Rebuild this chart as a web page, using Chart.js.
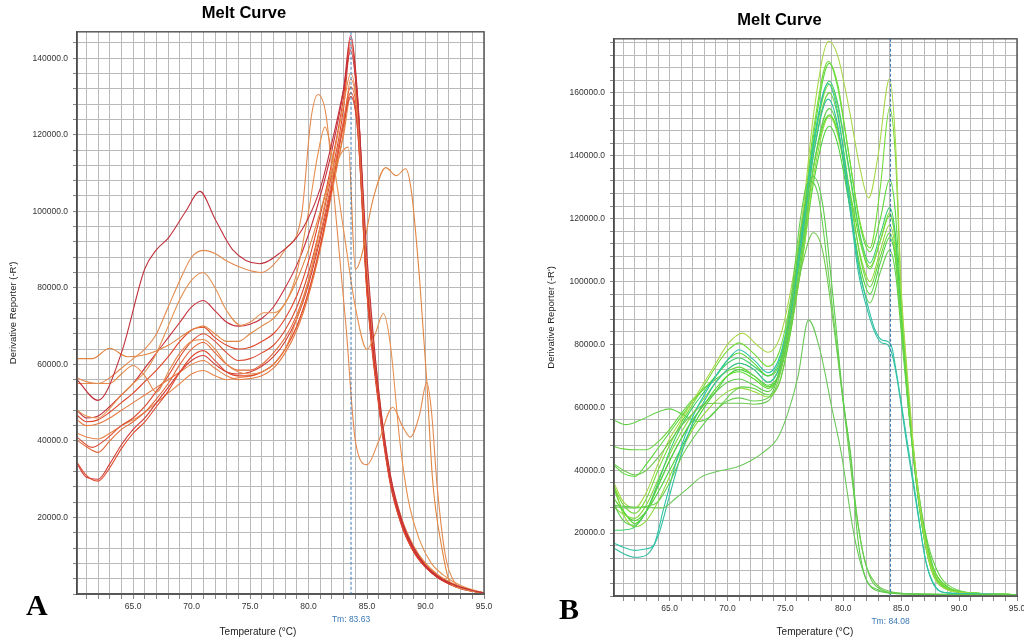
<!DOCTYPE html>
<html>
<head>
<meta charset="utf-8">
<script src="https://cdn.jsdelivr.net/npm/chart.js@4.4.1/dist/chart.umd.min.js"></script>
<style>
  html, body { margin: 0; padding: 0; background: #fff; overflow: hidden; }
  body { width: 1024px; height: 644px; position: relative; }
  canvas { position: absolute; top: 0; }
  .panel-letter { position: absolute; font: bold 30px "Liberation Serif", serif; color: #000; }
</style>
</head>
<body>
<canvas id="chartA" width="516" height="644" style="left:0"></canvas>
<canvas id="chartB" width="505" height="644" style="left:540px"></canvas>
<div class="panel-letter" style="left:26px; top:588px">A</div>
<div class="panel-letter" style="left:559px; top:592px">B</div>
<script>
// values are derivative reporter in thousands: [temperature, -R']
// panel A
const a1 = [[60.2,56],[62,50.6],[64,63],[66,85],[67,90],[68,93],[69.5,100],[70.7,105.2],[72,98],[73.5,90],[75.8,86.3],[77.5,89],[79.4,95],[81,106],[82,118],[83,132],[83.6,142],[84.2,128],[85,88],[86,53],[87,31],[88,19],[89,12],[90,7.5],[91,4.8],[92,3],[93,1.8],[94,0.9],[95,0.3]]
const a2 = [[60.2,56.5],[61,55.5],[62,55],[63,56.5],[64,59],[65,61.5],[66,64],[67,68],[68,75],[69,82],[70,88],[71,89.8],[72,89],[73,87],[74.5,85],[76,84],[77,86],[78,90],[79.4,99],[80.2,124],[80.8,130.5],[81.5,125],[82.3,100],[83.2,70],[84,40],[85,33.8],[86,40],[87.2,48.8],[88,44],[88.7,41],[89.5,47],[90.1,55.3],[90.5,48],[91,28],[91.7,10],[92.5,3],[93.5,1.2],[95,0.3]]
const a3 = [[60.2,48],[61,46.5],[62,46],[63,48.5],[64,52],[65,55],[66,58],[67,63],[68,70],[69,77],[70,82],[71,84],[72,80],[73,74],[74.2,70.2],[75,71],[76.2,73.5],[77,73.5],[78,76],[79,84],[80,100],[80.8,115],[81.4,122],[82,115],[83,95],[84,75],[85,63.9],[85.7,68],[86.4,73.3],[87,65],[87.8,40],[88.5,25],[89.5,14],[90.5,8],[91.5,5],[92.5,3],[93.5,1.6],[95,0.3]]
const a4 = [[60.2,61.5],[61.5,61.5],[63,64.2],[64.5,62],[66,62.5],[68,65],[70,69],[71,70],[72,68],[73,66],[74,66],[75,68],[76,70],[77,72],[78,76],[79,82],[80,90],[81,100],[82,110],[83.4,116.8],[84,84.8],[84.5,88],[85.5,103],[86.6,111.4],[87.5,109.3],[88.3,111.1],[88.8,105],[89.5,82],[90.1,56],[90.6,30],[91.4,12],[92.1,3],[93,1.5],[94,0.7],[95,0.3]]
const a5 = [[60.2,55],[61,55],[63,55],[64,57.5],[65,59.7],[66,57],[67,52.7],[68,58],[69,63],[70,66],[71,66.5],[72,64],[73,60],[74,58],[75,57.5],[76,58],[77,60],[78,64],[79,72],[80,82],[81,96],[82,112],[83,128],[83.6,136],[84.2,126],[85,85],[86,53],[87,31],[88,19.5],[89,12.5],[90,8],[91,5],[92,3.2],[93,1.8],[94,0.9],[95,0.3]]
const a6 = [[60.2,48],[61,46],[62,46.5],[63,49],[64,52],[65,55],[66,59],[67,63],[68,67],[69,71],[70,75],[71,76.7],[72,74],[73,71],[74,70],[75,70.5],[76,72],[77,75],[78,80],[79,86],[80,94],[81,104],[82,116],[83,132],[83.6,146],[84.2,130],[85,83],[86,52],[87,30],[88,18.5],[89,11.5],[90,7.2],[91,4.5],[92,2.8],[93,1.6],[94,0.8],[95,0.2]]
const a7 = [[60.2,46.7],[61,45],[62,45.5],[63,47.5],[64,50],[65,52.5],[66,55.5],[67,58.5],[68,62],[69,66],[70,69],[71,69.7],[72,67],[73,65],[74,64],[75,64.5],[76,66],[77,68],[78,72],[79,78],[80,87],[81,99],[82,113],[83,130],[83.6,145],[84.2,129],[85,82],[86,51],[87,29.5],[88,18],[89,11],[90,7],[91,4.4],[92,2.7],[93,1.5],[94,0.8],[95,0.2]]
const a8 = [[60.2,41],[61.5,38.3],[62.5,40],[64,44],[65,46],[66,49],[67,53],[68,57],[69,62],[70,66],[71,68],[72,66],[73,63],[74,61],[75,61.5],[76,63],[77,65],[78,69],[79,75],[80,84],[81,96],[82,110],[83,127],[83.6,143.5],[84.2,128],[85,81],[86,51],[87,29],[88,17.5],[89,11],[90,7],[91,4.3],[92,2.6],[93,1.4],[94,0.7],[95,0.2]]
const a9 = [[60.2,40.2],[61,38.5],[62,37],[63,40],[64,43],[65,45],[66,47.5],[67,51],[68,55],[69,60],[70,64],[71,65.8],[72,63],[73,60],[74,58.5],[75,58.5],[76,60],[77,63],[78,67],[79,73],[80,82],[81,94],[82,108],[83,124],[83.6,132.5],[84.2,124],[85,80],[86,50],[87,29],[88,18],[89,11.5],[90,7.5],[91,4.8],[92,3],[93,1.7],[94,0.8],[95,0.3]]
const a10 = [[60.2,34.4],[61,31],[62,29.5],[63,33],[64,38],[65,42],[66,45],[67,49],[68,53],[69,58],[70,62],[71,63.6],[72,61],[73,58],[74,57],[75,57],[76,58],[77,60],[78,64],[79,70],[80,79],[81,91],[82,106],[83,123],[83.6,131],[84.2,122],[85,79],[86,50],[87,29],[88,18],[89,11.2],[90,7],[91,4.5],[92,2.8],[93,1.6],[94,0.8],[95,0.2]]
const a11 = [[60.2,34],[61,30.5],[62,30],[63,34],[64,39],[65,43],[66,46],[67,50],[68,54],[69,58],[70,61],[71,62.3],[72,60],[73,58],[74,57.5],[75,58],[76,59.5],[77,62],[78,66],[79,72],[80,81],[81,93],[82,107],[83,123],[83.6,130],[84.2,121],[85,78],[86,49],[87,28.5],[88,17.5],[89,11],[90,7],[91,4.4],[92,2.7],[93,1.5],[94,0.7],[95,0.2]]
const a12 = [[60.2,45.5],[61,44],[62,44.5],[63,46],[64,48],[65,50],[66,52],[67,54],[68,56],[69,58],[70,60],[71,61],[72,59],[73,57],[74,56],[75,56.3],[76,57],[77,59],[78,63],[79,69],[80,78],[81,90],[82,105],[83,121],[83.6,134.5],[84.2,125],[85,80],[86,50],[87,29.5],[88,18.5],[89,12],[90,7.8],[91,5],[92,3.1],[93,1.7],[94,0.9],[95,0.3]]
const a13 = [[60.2,42],[61,41],[62,40.5],[63,42],[64,44],[65,45.5],[66,47.5],[67,50],[68,52.5],[69,55],[70,57.5],[71,58.4],[72,57],[73,56],[74,56.5],[75,57],[76,58],[77,60],[78,64],[79,70],[80,79],[81,91],[82,106],[83,120],[83.6,130],[84.2,121],[85,79],[86,50],[87,29.5],[88,18.5],[89,12],[90,8],[91,5.2],[92,3.3],[93,1.9],[94,1],[95,0.3]]
const seriesA = [a1, a2, a3, a4, a5, a6, a7, a8, a9, a10, a11, a12, a13]
const colorsA = ['#c0303c', '#e48a50', '#e6904e', '#e2843e', '#e8884a', '#c8303a', '#e04428', '#dc4a30', '#e4683a', '#e0482c', '#d23c34', '#e67a40', '#e8864a']

// panel B
const b1 = [[60.2,35.9],[61,30],[62,28],[63,33],[64,42],[65,50],[66,56],[67,62],[68,68],[69,74],[70,80],[71.3,83.6],[72.5,80],[73.5,77.5],[74.5,82],[75.5,98],[76.5,122],[77.5,155],[78.75,176.4],[79.5,172],[80.5,155],[81.5,135],[82.2,126.6],[83,140],[84,164.5],[84.5,145],[85,98],[85.5,72],[86,50],[86.5,32],[87,19],[87.5,10],[88,5],[89,2],[90,1.2],[92,0.8],[95,0.4]]
const b2 = [[60.2,34.7],[61,29],[62,26.3],[63,31],[64,40],[65,48],[66,55],[67,61],[68,67],[69,73],[70,78],[71,80.5],[72.3,77],[73.5,73],[74.5,78],[75.5,95],[76.5,120],[77.5,150],[78.7,170],[79.5,163],[80.5,140],[81.5,118],[82.3,110.7],[83.2,130],[84,155.3],[84.5,140],[85,96],[85.5,70],[86,49],[86.5,31],[87,18],[87.5,9.5],[88,5],[89,2],[90,1.2],[92,0.8],[95,0.4]]
const b3 = [[60.2,41.6],[61,39],[62,38],[63,42],[64,47],[65,52],[66,57],[67,62],[68,66],[69,70],[70,75],[71,77.3],[72.3,74],[73.5,70],[74.5,74],[75.5,92],[76.5,118],[77.5,148],[78.8,169.4],[79.5,162],[80.5,140],[81.5,117],[82.3,109.5],[83.2,120],[84,132.4],[84.5,122],[85,92],[85.5,68],[86,48],[86.5,31],[87,18.5],[87.5,10],[88,5.5],[89,2.2],[90,1.3],[92,0.8],[95,0.4]]
const b4 = [[60.2,20.9],[61,21],[62,22],[63,27],[64,36],[65,46],[66,54],[67,60],[68,65],[69,70],[70,74],[71,75.7],[72.3,73],[73.5,70],[74.5,75],[75.5,92],[76.5,117],[77.5,145],[78.8,163.7],[79.5,157],[80.5,136],[81.5,114],[82.3,105.9],[83.2,115],[84,123.5],[84.5,115],[85,90],[85.5,67],[86,47],[86.5,30],[87,18],[87.5,10],[88,5],[89,2],[90,1.2],[92,0.8],[95,0.4]]
const b5 = [[60.2,28.3],[61,26],[62,24.7],[63,29],[64,37],[65,45],[66,52],[67,58],[68,63],[69,68],[70,72],[71,74.1],[72.3,72],[73.5,68],[74.5,73],[75.5,90],[76.5,115],[77.5,144],[78.8,162.7],[79.5,156],[80.5,135],[81.5,113],[82.3,104.7],[83.2,113],[84,121.9],[84.5,113],[85,89],[85.5,66],[86,47],[86.5,31],[87,19.5],[87.5,11],[88,6],[89,2.5],[90,1.4],[92,0.8],[95,0.4]]
const b6 = [[60.2,47.5],[61,46.8],[62,46.5],[63,46.5],[64,49],[65,53],[66,58],[67,62.5],[68,66],[69,69],[70,71.5],[71,72.8],[72.3,70],[73.5,66.5],[74.5,71],[75.5,88],[76.5,113],[77.5,142],[78.8,160],[79.5,153],[80.5,130],[81.5,107],[82.3,98.3],[83.2,108],[84,115.5],[84.5,108],[85,87],[85.5,65],[86,46],[86.5,31],[87,20],[87.5,12],[88,7],[89,3],[90,1.5],[92,0.8],[95,0.4]]
const b7 = [[60.2,55.9],[61.2,54.5],[62.5,56],[64,58.5],[65,59.5],[66,58],[67.5,55.5],[68.5,57],[69.5,61],[70.5,65],[71.3,66.5],[72.3,66],[73.5,64],[74.5,68],[75.5,85],[76.5,110],[77.5,138],[78.8,155],[79.5,149],[80.5,126],[81.5,102],[82.3,93.2],[83.2,103],[84,110],[84.5,103],[85,84],[85.5,64],[86,47],[86.5,33],[87,22],[87.5,14],[88,9],[88.5,5.5],[89.5,2.5],[91,1],[95,0.4]]
const b8 = [[60.2,31],[61,27],[62,23],[63,27],[64,35],[65,43],[66,50],[67,56],[68,61],[69,66],[70,70],[71,71.3],[72.3,69],[73.5,66],[74.5,71],[75.5,88],[76.5,112],[77.5,138],[78.8,153],[79.5,148],[80.5,130],[81.5,112],[82.3,104],[83.2,113],[84,121],[84.5,113],[85,88],[85.5,66],[86,47],[86.5,31],[87,19],[87.5,11],[88,6],[89,2.4],[90,1.3],[92,0.8],[95,0.4]]
const b9 = [[60.2,35.5],[61,26],[62,22],[63,24],[64,30],[65,38],[66,46],[67,53],[68,58],[69,62],[70,65],[71,66.2],[72.3,65],[73.5,63.3],[74.5,68],[75.5,85],[76.5,108],[77.5,135],[78.8,152.5],[79.5,147],[80.5,128],[81.5,108],[82.3,100],[83.2,110],[84,118],[84.5,110],[85,87],[85.5,65],[86,46],[86.5,30],[87,18],[87.5,10],[88,5.5],[89,2.2],[90,1.3],[92,0.8],[95,0.4]]
const b10 = [[60.2,34],[61,27],[62,24],[63,27],[64,33],[65,40],[66,47],[67,54],[68,60],[69,65],[70,70],[71,72],[72.3,70],[73.5,67],[74.5,71],[75.5,86],[76.5,108],[77.5,133],[78.8,149.4],[79.5,144],[80.5,125],[81.5,104],[82.3,96],[83.2,106],[84,114],[84.5,107],[85,86],[85.5,66],[86,48],[86.5,33],[87,21],[87.5,12.5],[88,7],[89,2.8],[90,1.5],[92,0.8],[95,0.4]]
const t1 = [[60.2,16.8],[61,15.5],[62,14.5],[63,15],[63.6,16],[64.5,28],[65.6,43],[67,57],[68,64],[69,70],[70,75],[71,78.3],[72.3,75],[73.5,71],[74.5,76],[75.5,93],[76.5,118],[77.5,146],[78.7,163],[79.5,154],[80.5,128],[81.3,105],[82,94],[82.7,85],[83.3,81.5],[83.8,81],[84.2,79],[84.5,73],[85.4,52],[86.3,30.5],[87.1,11.3],[88,2.8],[89,1],[92,0.6],[95,0.4]]
const t2 = [[60.2,15.2],[61,13.5],[62,12.3],[63,13],[64,19],[65,32],[66,45],[67,55],[68,62],[69,68],[70,72],[71,74],[72.3,72],[73.5,68],[74.5,73],[75.5,90],[76.5,115],[77.5,142],[78.7,158],[79.5,150],[80.5,125],[81.3,103],[82,92],[82.7,84],[83.3,80.5],[83.8,80],[84.2,77],[84.6,70],[85.5,48],[86.4,27],[87.2,10],[88,2.5],[89,1],[92,0.6],[95,0.4]]
const e1 = [[60.2,29],[61,24],[62,22.5],[63,27],[64,35],[65,43],[66,50],[67,56],[68,61],[69,65],[70,68],[71,69],[72.3,67],[73.5,65],[74.5,72],[75.5,92],[76.5,120],[77.4,133.4],[78.2,125],[79.2,92],[80,62],[80.7,43],[81.2,20],[81.9,6],[83,2],[84,1],[86,0.6],[95,0.4]]
const e2 = [[60.2,28.5],[61,28],[62,28],[63,28.5],[64,30],[65,36],[66,44],[67,50],[68,55],[69,59],[70,62],[71,63],[72.3,62],[73.5,63],[74.5,72],[75.5,95],[76.3,120],[77,132],[77.8,128],[78.8,100],[79.8,68],[80.6,45],[81.3,22],[82.2,7],[83.3,2],[84.5,1],[86,0.6],[95,0.4]]
const e3 = [[60.2,42],[61,40],[62,38.5],[63,40],[64,44],[65,49],[66,54],[67,58],[68,61],[69,61.3],[70,61.3],[71.3,61.3],[72.3,61],[73.5,62],[74.5,70],[75.5,88],[76.5,106],[77.4,115.5],[78.2,110],[79.2,85],[80.2,55],[81,30],[81.8,12],[82.8,4],[84,1.5],[86,0.7],[95,0.4]]
const e4 = [[60.2,28.9],[61,28.5],[62,28.3],[63,28.2],[64.4,28],[65.5,31],[66.5,34],[67.7,37.8],[69,39.5],[70.8,41],[72,43],[73.2,46],[74.3,50],[75.2,58],[76.1,70],[77,87.8],[78,78],[79,60],[79.8,46],[80.9,20],[81.7,8],[82.4,2.8],[83.5,1.2],[85,0.7],[95,0.4]]
const seriesB = [e1, e2, e3, e4, t1, t2, b1, b2, b3, b4, b5, b6, b7, b8, b9, b10]
const colorsB = ['#5ccc4a', '#68d050', '#70c850', '#6cc85a', '#2ec4a8', '#34bfa0', '#a8d84a', '#74dc38', '#5cd83a', '#3ccf6a', '#86d844', '#6ad640', '#62d048', '#56dc2c', '#92da3e', '#4cd43a']

// axes
const tempMin = 60.2, tempMax = 95
const xLabelTemps = [65, 70, 75, 80, 85, 90, 95]
const yMaxA = 146900, yMaxB = 177200
const yGridStep = 4000
const yLabelStep = 20000
const tmA = 83.63, tmB = 84.08

const extras = {
    id: 'extras',
    afterDraw(chart, args, opts) {
        const {ctx, chartArea: a, scales} = chart
        ctx.save()
        ctx.strokeStyle = '#5a5a5a'
        ctx.lineWidth = 1.5
        ctx.strokeRect(a.left, a.top, a.right - a.left, a.bottom - a.top)
        const x = scales.x.getPixelForValue(opts.tm)
        ctx.setLineDash([3, 2])
        ctx.strokeStyle = '#3b78b5'
        ctx.lineWidth = 1
        ctx.beginPath()
        ctx.moveTo(x, a.top)
        ctx.lineTo(x, a.bottom)
        ctx.stroke()
        ctx.setLineDash([])
        ctx.textAlign = 'center'
        ctx.textBaseline = 'middle'
        ctx.fillStyle = '#3b78b5'
        ctx.font = '8.5px "Liberation Sans", Arial, sans-serif'
        ctx.fillText('Tm: ' + opts.tm.toFixed(2), x, a.bottom + 26)
        ctx.fillStyle = '#222'
        ctx.font = '10px "Liberation Sans", Arial, sans-serif'
        ctx.fillText('Temperature (°C)', opts.titleX, 632)
        ctx.restore()
    }
}

// grid every 4000, labels every 20000 (stepSize alone gets respread by chart.js here)
function gridTicks(max) {
    const ticks = []
    for (let v = 0; v <= max; v += yGridStep) ticks.push({value: v})
    return ticks
}

function yTickLabel(v) {
    return v > 0 && v % yLabelStep === 0 ? v.toFixed(1) : ''
}

function makeChart(id, series, colors, yMax, tm, titleTop, areaLeft, pad, titleX) {
    const tickFont = {family: '"Liberation Sans", Arial, sans-serif', size: 8.5}
    return new Chart(document.getElementById(id).getContext('2d'), {
        type: 'line',
        data: {
            datasets: series.map((s, i) => ({
                data: s.map(p => ({x: p[0], y: p[1] * 1000})),
                borderColor: colors[i],
                borderWidth: 1.1,
                pointRadius: 0,
                fill: false,
                cubicInterpolationMode: 'monotone',
            }))
        },
        options: {
            responsive: false,
            devicePixelRatio: 1,
            animation: false,
            layout: {padding: pad},
            plugins: {
                legend: {display: false},
                tooltip: {enabled: false},
                title: {
                    display: true,
                    text: 'Melt Curve',
                    color: '#000',
                    font: {family: '"Liberation Sans", Arial, sans-serif', size: 16.5, weight: 'bold'},
                    padding: {top: titleTop, bottom: 8}
                },
                extras: {tm: tm, titleX: titleX}
            },
            scales: {
                x: {
                    type: 'linear', min: tempMin, max: tempMax,
                    afterFit: s => { s.height = 30 },
                    border: {color: '#555', width: 2},
                    grid: {color: '#b9b9b9', lineWidth: 1, tickLength: 5, tickColor: '#888'},
                    ticks: {
                        stepSize: 1, includeBounds: false, autoSkip: false, maxRotation: 0,
                        maxTicksLimit: 100, padding: 3, color: '#333', font: tickFont,
                        callback: v => xLabelTemps.includes(v) ? v.toFixed(1) : ''
                    }
                },
                y: {
                    type: 'linear', min: 0, max: yMax,
                    afterBuildTicks: s => { s.ticks = gridTicks(yMax) },
                    afterFit: s => { s.width = areaLeft - pad.left },
                    border: {color: '#222', width: 1.5},
                    grid: {color: '#b9b9b9', lineWidth: 1, tickLength: 4, tickColor: '#888'},
                    ticks: {
                        autoSkip: false, padding: 5, color: '#333', font: tickFont,
                        callback: yTickLabel
                    },
                    title: {
                        display: true,
                        text: "Derivative Reporter (-R')",
                        color: '#222',
                        font: {family: '"Liberation Sans", Arial, sans-serif', size: 9.5},
                        padding: {top: 4, bottom: 4}
                    }
                }
            }
        },
        plugins: [extras]
    })
}

const chartA = makeChart('chartA', seriesA, colorsA, yMaxA, tmA, 4, 77, {left: 4, right: 32, top: 0, bottom: 20}, 258)
const chartB = makeChart('chartB', seriesB, colorsB, yMaxB, tmB, 11, 74, {left: 2, right: 28, top: 0, bottom: 18}, 275)
</script>
</body>
</html>
